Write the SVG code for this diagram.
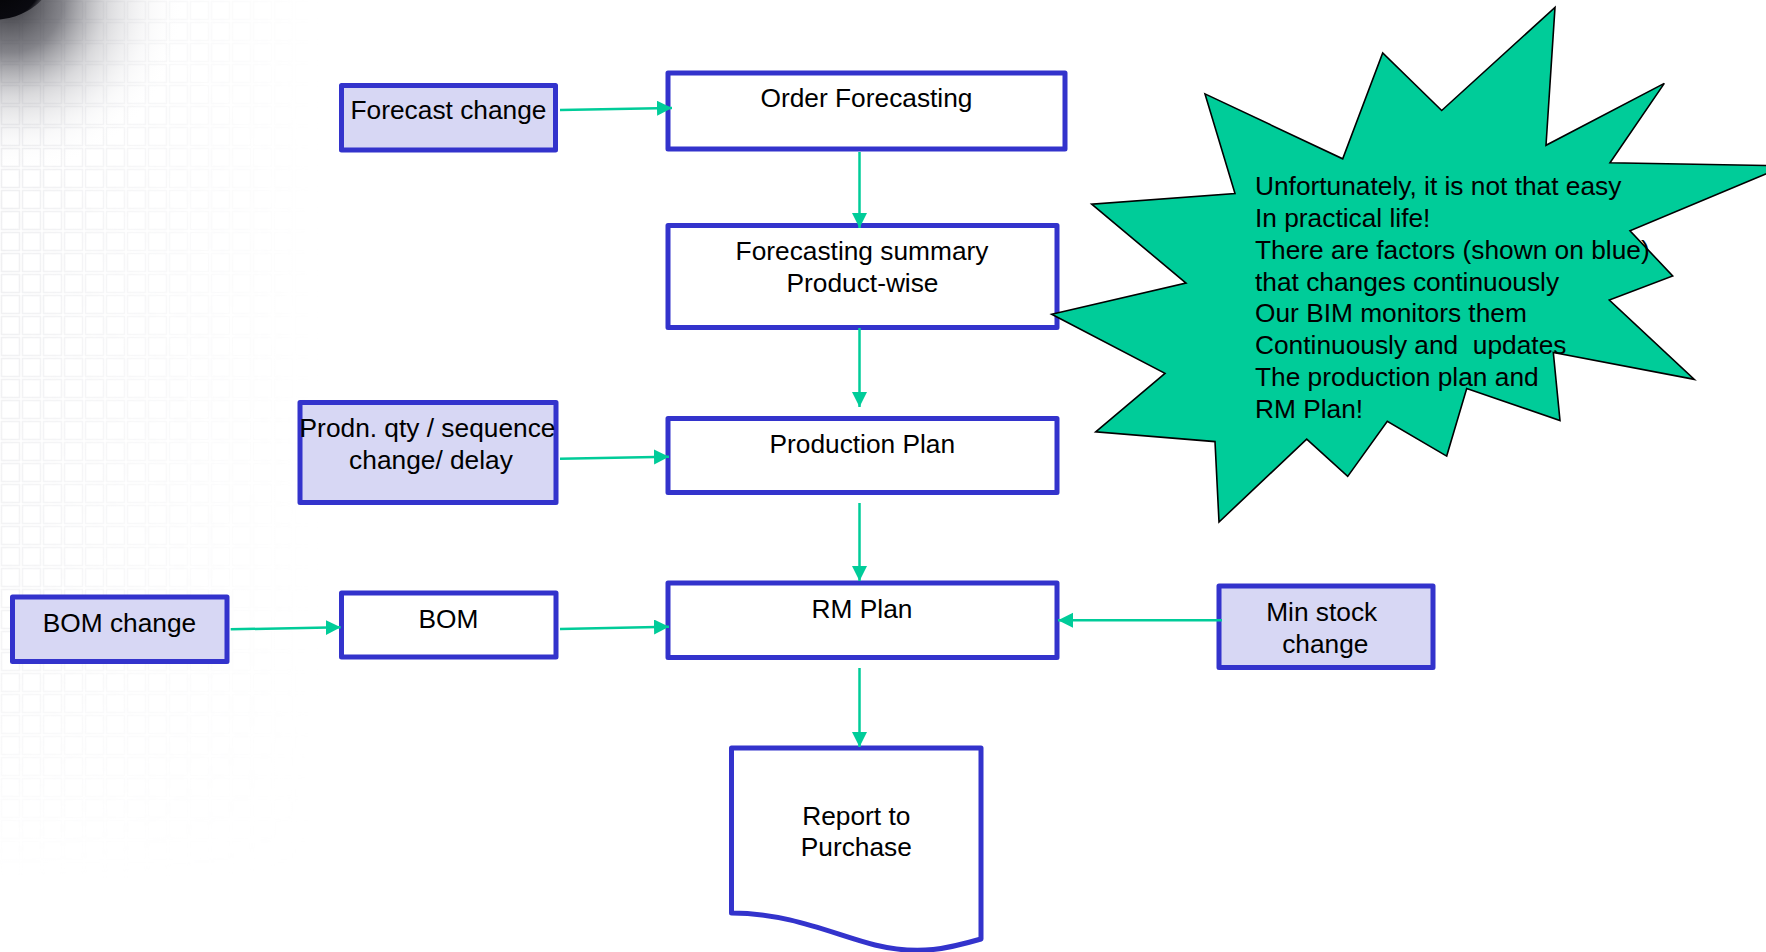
<svg xmlns="http://www.w3.org/2000/svg" width="1766" height="952" viewBox="0 0 1766 952">
<style>
.box{stroke:#3333CC;stroke-width:5;stroke-linejoin:round}
.plain{fill:#FFFFFF}
.chg{fill:#D7D7F4}
.lbl{font-family:"Liberation Sans",Arial,sans-serif;font-size:26.3px;fill:#000000}
.mid{text-anchor:middle}
.conn{stroke:#00CC99;stroke-width:2.5;fill:none}
</style>
<defs>
<marker id="arr" markerUnits="userSpaceOnUse" markerWidth="16" markerHeight="16" refX="15" refY="7.5" orient="auto">
<path d="M0,0 L15,7.5 L0,15 Z" fill="#00CC99"/>
</marker>
<radialGradient id="shadow" cx="10" cy="0" r="175" gradientUnits="userSpaceOnUse">
<stop offset="0" stop-color="#2a2a30" stop-opacity="0.95"/>
<stop offset="0.3" stop-color="#5a5a62" stop-opacity="0.75"/>
<stop offset="0.55" stop-color="#a0a0a6" stop-opacity="0.4"/>
<stop offset="0.8" stop-color="#d8d8dc" stop-opacity="0.15"/>
<stop offset="1" stop-color="#ffffff" stop-opacity="0"/>
</radialGradient>
<radialGradient id="blackcap" cx="-8" cy="-30" r="62" gradientUnits="userSpaceOnUse">
<stop offset="0" stop-color="#000000"/>
<stop offset="0.85" stop-color="#0a0a10"/>
<stop offset="1" stop-color="#202028" stop-opacity="0"/>
</radialGradient>
<pattern id="grid" width="21" height="21" patternUnits="userSpaceOnUse">
<rect x="1.5" y="1.5" width="18" height="18" fill="none" stroke="#d6d7dc" stroke-width="1.6"/>
</pattern>
<linearGradient id="fadeX" x1="0" y1="0" x2="1" y2="0">
<stop offset="0" stop-color="#ffffff" stop-opacity="0.45"/>
<stop offset="0.6" stop-color="#ffffff" stop-opacity="0.15"/>
<stop offset="1" stop-color="#ffffff" stop-opacity="0"/>
</linearGradient>
<linearGradient id="fadeY" x1="0" y1="0" x2="0" y2="1">
<stop offset="0" stop-color="#ffffff" stop-opacity="1"/>
<stop offset="0.75" stop-color="#ffffff" stop-opacity="0.6"/>
<stop offset="1" stop-color="#ffffff" stop-opacity="0"/>
</linearGradient>
<mask id="gridMaskY"><rect x="0" y="0" width="320" height="880" fill="url(#fadeY)"/></mask>
<mask id="gridMask"><rect x="0" y="0" width="320" height="880" fill="url(#fadeX)"/></mask>
</defs>
<rect x="0" y="0" width="1766" height="952" fill="#FFFFFF"/>
<g id="background">
<g mask="url(#gridMaskY)"><rect x="0" y="0" width="320" height="880" fill="url(#grid)" mask="url(#gridMask)"/></g>
<rect x="0" y="0" width="200" height="200" fill="url(#shadow)"/>
<ellipse cx="-8" cy="-30" rx="62" ry="50" fill="url(#blackcap)"/>
</g>

<g id="node-forecast-change">
<rect class="box chg" x="341.5" y="85.5" width="214" height="64.5"/>
<text class="lbl mid" x="448.5" y="119.3">Forecast change</text>
</g>
<g id="node-order-forecasting">
<rect class="box plain" x="668" y="73" width="397" height="76"/>
<text class="lbl mid" x="866.5" y="107.3">Order Forecasting</text>
</g>
<g id="node-forecasting-summary">
<rect class="box plain" x="668" y="225.5" width="389" height="102"/>
<text class="lbl mid" x="862" y="260">Forecasting summary</text>
<text class="lbl mid" x="862.5" y="291.7">Product-wise</text>
</g>
<g id="node-production-plan">
<rect class="box plain" x="668" y="418.5" width="389" height="74"/>
<text class="lbl mid" x="862.3" y="453.3">Production Plan</text>
</g>
<g id="node-prodn-change">
<rect class="box chg" x="300" y="402.5" width="256" height="100"/>
<text class="lbl mid" x="427.5" y="437.3">Prodn. qty / sequence</text>
<text class="lbl mid" x="431" y="469">change/ delay</text>
</g>
<g id="node-rm-plan">
<rect class="box plain" x="668" y="583" width="389" height="74.5"/>
<text class="lbl mid" x="862" y="617.7">RM Plan</text>
</g>
<g id="node-bom">
<rect class="box plain" x="341.5" y="593" width="214.5" height="64"/>
<text class="lbl mid" x="448.5" y="627.7">BOM</text>
</g>
<g id="node-bom-change">
<rect class="box chg" x="12.5" y="597" width="214.5" height="64.5"/>
<text class="lbl mid" x="119.5" y="631.7">BOM change</text>
</g>
<g id="node-min-stock-change">
<rect class="box chg" x="1219" y="586" width="214" height="81.5"/>
<text class="lbl mid" x="1321.7" y="620.7">Min stock</text>
<text class="lbl mid" x="1325.3" y="652.7">change</text>
</g>
<g id="node-report">
<path class="box plain" d="M731.5,913 V748 H981 V939 C950,948 920,956 875,945 C835,935 790,913 731.5,913 Z"/>
<text class="lbl mid" x="856.3" y="825">Report to</text>
<text class="lbl mid" x="856.3" y="856">Purchase</text>
</g>

<g id="connectors">
<line class="conn" x1="560" y1="110" x2="672" y2="108" marker-end="url(#arr)"/>
<line class="conn" x1="859.5" y1="152" x2="859.5" y2="228" marker-end="url(#arr)"/>
<line class="conn" x1="859.5" y1="328" x2="859.5" y2="407" marker-end="url(#arr)"/>
<line class="conn" x1="859.5" y1="503" x2="859.5" y2="581" marker-end="url(#arr)"/>
<line class="conn" x1="859.5" y1="668" x2="859.5" y2="747" marker-end="url(#arr)"/>
<line class="conn" x1="560" y1="458.7" x2="669" y2="456.7" marker-end="url(#arr)"/>
<line class="conn" x1="230.7" y1="629.3" x2="340.7" y2="627.3" marker-end="url(#arr)"/>
<line class="conn" x1="560" y1="629" x2="669" y2="626.7" marker-end="url(#arr)"/>
<line class="conn" x1="1222" y1="620.3" x2="1058" y2="620.3" marker-end="url(#arr)"/>
</g>

<g id="node-callout">
<polygon fill="#00CC99" stroke="#000000" stroke-width="1.6" stroke-linejoin="miter" points="1051.7,314.2 1186,283.1 1091.7,204.1 1235,193.6 1205,93.9 1342.7,158.8 1382.7,53 1441.7,110.5 1555,7.4 1546,145.3 1664.3,83.4 1610,162.8 1785.6,165.8 1630,230.7 1672.7,276 1609.3,300 1694.3,379.4 1553.3,352.4 1560,420.6 1466.7,388.5 1446.7,456.1 1387.3,421.3 1347.7,476.4 1306.7,439.2 1219,522 1215,441.6 1095.7,431.8 1165,373.3"/>
<text class="lbl" x="1255" y="195">Unfortunately, it is not that easy</text>
<text class="lbl" x="1255" y="227">In practical life!</text>
<text class="lbl" x="1255" y="259">There are factors (shown on blue)</text>
<text class="lbl" x="1255" y="290.5">that changes continuously</text>
<text class="lbl" x="1255" y="322">Our BIM monitors them</text>
<text class="lbl" x="1255" y="354" xml:space="preserve">Continuously and  updates</text>
<text class="lbl" x="1255" y="386">The production plan and</text>
<text class="lbl" x="1255" y="418">RM Plan!</text>
</g>
</svg>
